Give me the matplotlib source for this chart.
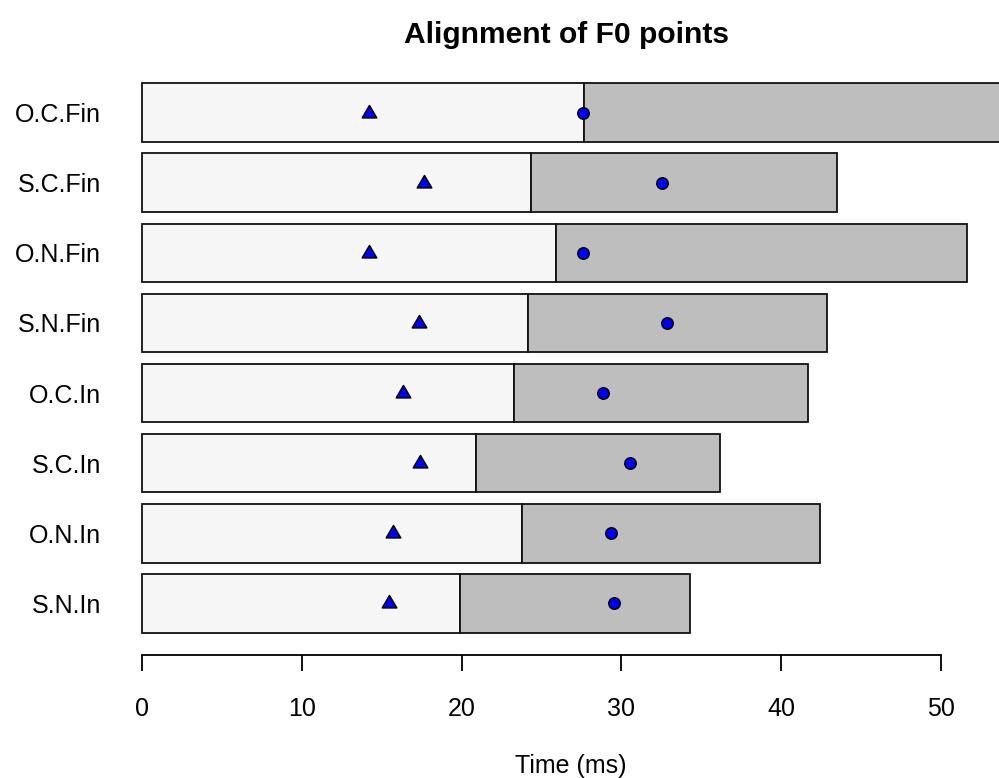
import matplotlib
matplotlib.use("Agg")
import matplotlib.pyplot as plt
from matplotlib.path import Path

# Data (bottom to top)
labels = ["S.N.In", "O.N.In", "S.C.In", "O.C.In", "S.N.Fin", "O.N.Fin", "S.C.Fin", "O.C.Fin"]
first_end = [19.9, 23.78, 20.88, 23.26, 24.16, 25.91, 24.34, 27.66]
total_end = [34.31, 42.43, 36.19, 41.66, 42.85, 51.63, 43.51, 56.0]
triangle_pts = [15.48, 15.69, 17.4, 16.35, 17.33, 14.22, 17.65, 14.18]
circle_pts = [29.54, 29.33, 30.52, 28.85, 32.87, 27.6, 32.52, 27.58]
xticks = [0, 10, 20, 30, 40, 50]

plt.rcParams['font.family'] = ['Liberation Sans', 'DejaVu Sans']

W, H = 999, 778
fig = plt.figure(figsize=(W / 100, H / 100), dpi=100)
ax = fig.add_axes([142 / W, 1 - 654.7 / H, 799 / W, 593.4 / H])

ypos = [0.7 + 1.2 * i for i in range(len(labels))]
second = [t - f for t, f in zip(total_end, first_end)]
lw = 1.3
ax.barh(ypos, first_end, height=1.0, color="#F6F6F6", edgecolor="#111111", linewidth=lw, clip_on=False, zorder=2)
ax.barh(ypos, second, left=first_end, height=1.0, color="#BEBEBE", edgecolor="#111111", linewidth=lw, clip_on=False, zorder=2)

tri = Path([(-1, -0.606), (1, -0.606), (0, 1.102), (-1, -0.606)],
           [Path.MOVETO, Path.LINETO, Path.LINETO, Path.CLOSEPOLY])
ax.plot(triangle_pts, ypos, linestyle="none", marker=tri, markersize=11.5,
        markerfacecolor="#0000FF", markeredgecolor="black", markeredgewidth=1.1, zorder=3, clip_on=False)
ax.plot(circle_pts, ypos, linestyle="none", marker="o", markersize=8.2,
        markerfacecolor="#0000FF", markeredgecolor="black", markeredgewidth=1.1, zorder=3, clip_on=False)

ax.set_xlim(0, 50)
ax.set_ylim(-0.176, 9.976)
for s in ["top", "right", "left"]:
    ax.spines[s].set_visible(False)
ax.spines["bottom"].set_bounds(0, 50)
ax.spines["bottom"].set_linewidth(lw)
ax.set_xticks(xticks)
ax.set_xticklabels([str(v) for v in xticks])
ax.tick_params(axis="x", length=11.5, width=lw, pad=19, labelsize=18)
ax.set_yticks(ypos)
ax.set_yticklabels(labels)
ax.tick_params(axis="y", length=0, pad=29.5, labelsize=18)
ax.patch.set_visible(False)

fig.text(566 / W, 1 - 43.3 / H, "Alignment of F0 points", ha="center", va="baseline",
         fontsize=21.6, fontweight="bold")
fig.text(571 / W, 1 - 773.3 / H, "Time (ms)", ha="center", va="baseline", fontsize=18)

fig.savefig("out.png", dpi=100)
